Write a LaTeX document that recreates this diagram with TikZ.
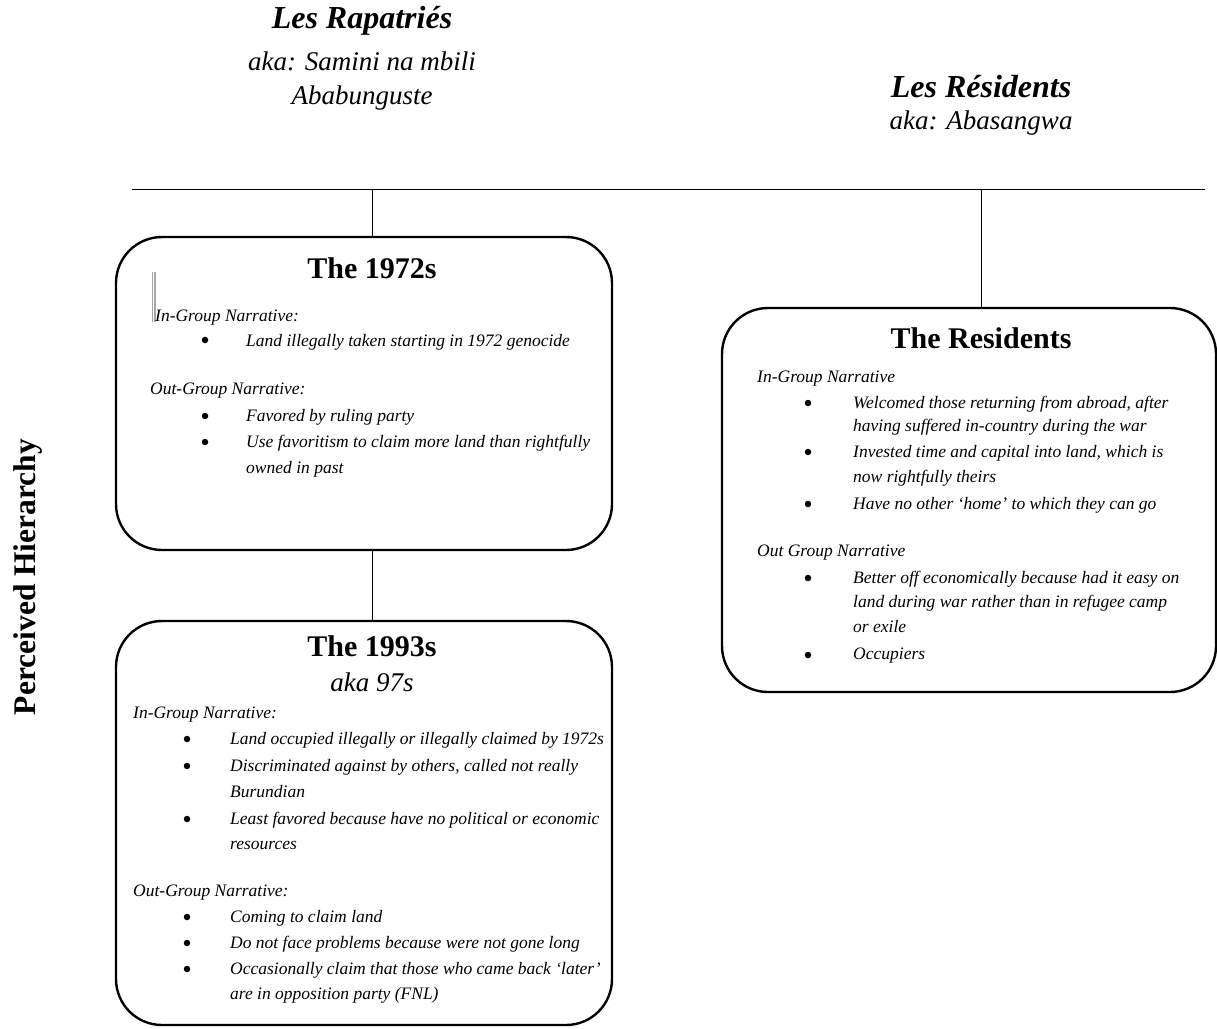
\documentclass[tikz,border=0pt]{standalone}
\usepackage{fontspec}
\setmainfont{Liberation Serif}
\begin{document}
\begin{tikzpicture}[x=1pt,y=-1pt,
  box/.style={draw, line width=2.4pt, rounded corners=46pt},
  conn/.style={draw, line width=0.9pt},
  hdr/.style={font=\fontsize{32}{36}\selectfont\bfseries\itshape, inner sep=0},
  aka/.style={font=\fontsize{27}{32}\selectfont\itshape, inner sep=0},
  ttl/.style={font=\fontsize{30}{34}\selectfont\bfseries, inner sep=0},
  txt/.style={font=\fontsize{17.5}{20}\selectfont\itshape, anchor=west, inner sep=0},
  bul/.style={circle, fill=black, inner sep=0, minimum size=6.5pt, yshift=2pt},
  side/.style={font=\fontsize{31.5}{36}\selectfont\bfseries, inner sep=0, rotate=90}
]
\useasboundingbox (0,0) rectangle (1217,1028);

% headers
\node[hdr] (h1) at (362,21) {Les Rapatriés};
\node[aka] (h2) at (362,61) {aka: Samini na mbili};
\node[aka] (h3) at (362,98) {Ababunguste};
\node[hdr] (h4) at (981,87) {Les Résidents};
\node[aka] (h5) at (981,123) {aka: Abasangwa};

% hierarchy line
\coordinate (hl) at (132,189);
\coordinate (hr) at (1205,189);
\coordinate (j1) at (372,189);
\coordinate (j2) at (981,189);
\draw[conn] (hl) -- (hr);

% boxes
\draw[box] (116,237) rectangle (612,550);
\node[inner sep=0, minimum width=496, minimum height=313] (b72) at (364,393.5) {};
\draw[box] (116,621) rectangle (612,1025);
\node[inner sep=0, minimum width=496, minimum height=404] (b93) at (364,823) {};
\draw[box] (722,308) rectangle (1216,692);
\node[inner sep=0, minimum width=494, minimum height=384] (bres) at (969,500) {};

\draw[conn] (j1) -- (j1 |- b72.north);
\draw[conn] (j2) -- (j2 |- bres.north);
\draw[conn] (j1 |- b72.south) -- (j1 |- b93.north);

% side label
\node[side] (ph) at (28,577) {Perceived Hierarchy};

% 1972 box
\node[ttl] (t72) at (372,268) {The 1972s};
\fill[gray!70] (152,272) rectangle (153.2,322);
\fill[gray!70] (154.4,272) rectangle (155.6,322);
\node[txt] (a1) at (155,318) {In-Group Narrative:};
\node[bul] (a2b) at (205,342) {};
\node[txt] (a2) at (246,342) {Land illegally taken starting in 1972 genocide};
\node[txt] (a3) at (150,391) {Out-Group Narrative:};
\node[bul] (a4b) at (205,418) {};
\node[txt] (a4) at (246,417) {Favored by ruling party};
\node[bul] (a5b) at (205,444) {};
\node[txt] (a5) at (246,443) {Use favoritism to claim more land than rightfully};
\node[txt] (a6) at (246,469) {owned in past};

% 1993 box
\node[ttl] (t93) at (372,646) {The 1993s};
\node[aka] (t93b) at (372,682) {aka 97s};
\node[txt] (c1) at (133,715) {In-Group Narrative:};
\node[bul] (c2b) at (187,741) {};
\node[txt] (c2) at (230,740) {Land occupied illegally or illegally claimed by 1972s};
\node[bul] (c3b) at (187,768) {};
\node[txt] (c3) at (230,767) {Discriminated against by others, called not really};
\node[txt] (c4) at (230,792) {Burundian};
\node[bul] (c5b) at (187,821) {};
\node[txt] (c5) at (230,820) {Least favored because have no political or economic};
\node[txt] (c6) at (230,845) {resources};
\node[txt] (c7) at (133,893) {Out-Group Narrative:};
\node[bul] (c8b) at (187,919) {};
\node[txt] (c8) at (230,918) {Coming to claim land};
\node[bul] (c9b) at (187,945) {};
\node[txt] (c9) at (230,944) {Do not face problems because were not gone long};
\node[bul] (c10b) at (187,971) {};
\node[txt] (c10) at (230,970) {Occasionally claim that those who came back ‘later’};
\node[txt] (c11) at (230,995) {are in opposition party (FNL)};

% Residents box
\node[ttl] (tres) at (981,338) {The Residents};
\node[txt] (r1) at (757,379) {In-Group Narrative};
\node[bul] (r2b) at (808,405) {};
\node[txt] (r2) at (853,404) {Welcomed those returning from abroad, after};
\node[txt] (r3) at (853,427) {having suffered in-country during the war};
\node[bul] (r4b) at (808,454) {};
\node[txt] (r4) at (853,453) {Invested time and capital into land, which is};
\node[txt] (r5) at (853,478) {now rightfully theirs};
\node[bul] (r6b) at (808,506) {};
\node[txt] (r6) at (853,505) {Have no other ‘home’ to which they can go};
\node[txt] (r7) at (757,553) {Out Group Narrative};
\node[bul] (r8b) at (808,580) {};
\node[txt] (r8) at (853,579) {Better off economically because had it easy on};
\node[txt] (r9) at (853,603) {land during war rather than in refugee camp};
\node[txt] (r10) at (853,627) {or exile};
\node[bul] (r11b) at (808,657) {};
\node[txt] (r11) at (853,656) {Occupiers};
\end{tikzpicture}
\end{document}
